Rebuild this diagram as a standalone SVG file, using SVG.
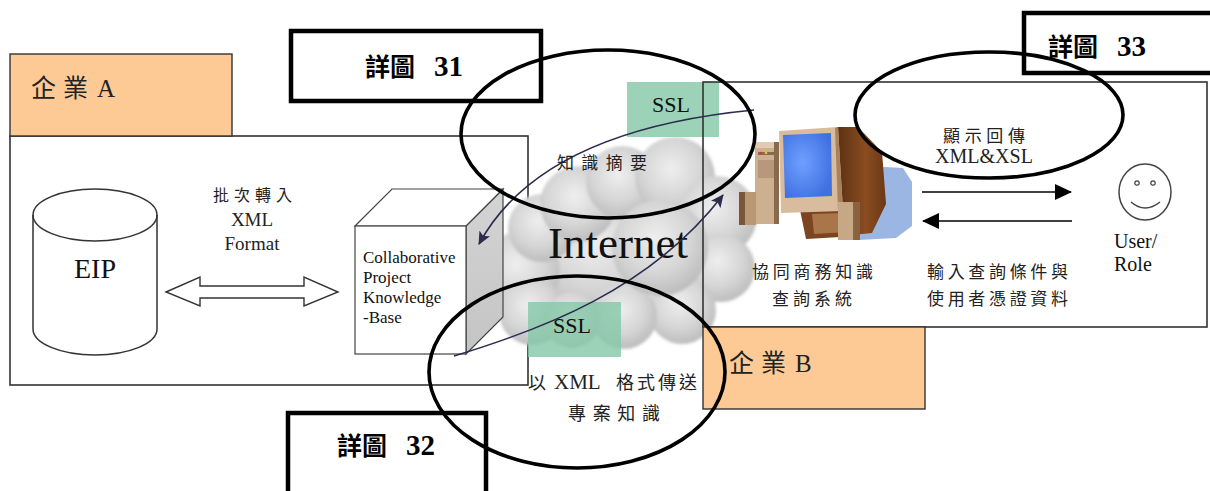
<svg xmlns="http://www.w3.org/2000/svg" width="1210" height="491" viewBox="0 0 1210 491">
  <defs>
    <style>
      .frame { fill: none; stroke: #333; stroke-width: 1.6; }
      .tag { fill: #fdca96; stroke: #333; stroke-width: 1.4; }
      .detail { fill: #fff; stroke: #000; stroke-width: 4.5; }
      .ring { fill: none; stroke: #000; stroke-width: 3.6; }
      .ssl { fill: #86c9a8; opacity: 0.82; }
      .line { fill: none; stroke: #333; stroke-width: 1.5; }
      .link { fill: none; stroke: #2c2c4e; stroke-width: 1.6; }
      .puff { fill: url(#puffGrad); }
    </style>
    <radialGradient id="puffGrad" cx="0.45" cy="0.4" r="0.6">
      <stop offset="0" stop-color="#eeeeee"/>
      <stop offset="0.6" stop-color="#d6d6d6"/>
      <stop offset="1" stop-color="#bdbdbd"/>
    </radialGradient>
    <radialGradient id="screenGrad" cx="0.4" cy="0.45" r="0.65">
      <stop offset="0" stop-color="#6fa0ff"/>
      <stop offset="1" stop-color="#3f6fe0"/>
    </radialGradient>
    <linearGradient id="sideGrad" x1="0" y1="0" x2="0" y2="1">
      <stop offset="0" stop-color="#d4d4d4"/>
      <stop offset="1" stop-color="#c4c4c4"/>
    </linearGradient>
    <linearGradient id="bodyGrad" x1="0" y1="0" x2="1" y2="0">
      <stop offset="0" stop-color="#5a3012"/>
      <stop offset="0.6" stop-color="#8a4c20"/>
      <stop offset="1" stop-color="#6a3816"/>
    </linearGradient>
    <filter id="soft" x="-10%" y="-10%" width="120%" height="120%">
      <feGaussianBlur stdDeviation="1.6"/>
    </filter>
    <marker id="navyHead" markerWidth="14" markerHeight="12" refX="12" refY="6" orient="auto" markerUnits="userSpaceOnUse">
      <path d="M0,0 L13,6 L0,12 L3,6 Z" fill="#2c2c4e"/>
    </marker>
    <marker id="blackHead" markerWidth="18" markerHeight="16" refX="16" refY="8" orient="auto" markerUnits="userSpaceOnUse">
      <path d="M0,0 L17,8 L0,16 Z" fill="#000"/>
    </marker>
  </defs>

  <rect width="1210" height="491" fill="#fff"/>

  <!-- Enterprise A -->
  <g id="enterprise-a">
    <rect class="frame" x="10" y="136" width="518" height="249" fill="#fff"/>
    <rect class="tag" x="10" y="54" width="222" height="82"/>
    <text font-family="'Liberation Serif', Tinos, 'Times New Roman', 'DejaVu Serif', 'Noto Sans CJK TC', serif" fill="#222" font-size="25" x="31 63 91 97" y="97">企業 A</text>
  </g>

  <!-- EIP store -->
  <g id="eip">
    <path class="line" fill="#fff" d="M33,215 L33,329 A62,26 0 0 0 157,329 L157,215"/>
    <ellipse class="line" fill="#fff" cx="95" cy="215" rx="62" ry="26"/>
    <text font-family="'Liberation Serif', Tinos, 'Times New Roman', 'DejaVu Serif', serif" fill="#111" font-size="28" x="95" y="278" text-anchor="middle">EIP</text>
  </g>

  <g id="batch-label" font-family="'Liberation Serif', Tinos, 'Times New Roman', 'DejaVu Serif', 'Noto Sans CJK TC', serif" fill="#222">
    <text font-size="16" x="213" y="201" textLength="79" lengthAdjust="spacing">批次轉入</text>
    <text font-size="19" x="252" y="226" text-anchor="middle">XML</text>
    <text font-size="19" x="252" y="250" text-anchor="middle">Format</text>
  </g>

  <!-- Internet cloud -->
  <g id="internet" filter="url(#soft)">
    <circle class="puff" cx="600" cy="255" r="62"/>
    <circle class="puff" cx="520" cy="272" r="40"/>
    <circle class="puff" cx="532" cy="312" r="33"/>
    <circle class="puff" cx="542" cy="228" r="34"/>
    <circle class="puff" cx="578" cy="204" r="38"/>
    <circle class="puff" cx="622" cy="182" r="36"/>
    <circle class="puff" cx="675" cy="177" r="40"/>
    <circle class="puff" cx="717" cy="216" r="40"/>
    <circle class="puff" cx="721" cy="268" r="34"/>
    <circle class="puff" cx="682" cy="310" r="34"/>
    <circle class="puff" cx="624" cy="316" r="33"/>
    <circle class="puff" cx="572" cy="320" r="28"/>
    <circle class="puff" cx="660" cy="248" r="48"/>
  </g>
  <text font-family="'Liberation Serif', Tinos, 'Times New Roman', 'DejaVu Serif', serif" fill="#111" font-size="45" x="548" y="258">Internet</text>

  <!-- Knowledge base cube -->
  <g id="knowledge-base">
    <polygon points="466,226 503,189 503,317 466,354" fill="url(#sideGrad)" stroke="#444" stroke-width="1.2"/>
    <polygon points="355,226 392,189 503,189 466,226" fill="#fff" stroke="#444" stroke-width="1.2"/>
    <rect x="355" y="226" width="111" height="128" fill="#fff" stroke="#444" stroke-width="1.2"/>
    <g font-family="'Liberation Serif', Tinos, 'Times New Roman', 'DejaVu Serif', serif" fill="#111" font-size="17">
      <text x="363" y="263">Collaborative</text>
      <text x="363" y="283">Project</text>
      <text x="363" y="303">Knowledge</text>
      <text x="363" y="323">-Base</text>
    </g>
  </g>

  <!-- SSL channels -->
  <g id="ssl-top">
    <rect class="ssl" x="627" y="82" width="92" height="55"/>
    <text font-family="'Liberation Serif', Tinos, 'Times New Roman', 'DejaVu Serif', serif" fill="#111" font-size="22" x="652" y="112">SSL</text>
  </g>
  <g id="ssl-bottom">
    <rect class="ssl" x="528" y="302" width="93" height="55"/>
    <text font-family="'Liberation Serif', Tinos, 'Times New Roman', 'DejaVu Serif', serif" fill="#111" font-size="22" x="553" y="333">SSL</text>
  </g>

  <!-- Enterprise B -->
  <g id="enterprise-b">
    <rect class="frame" x="703" y="82" width="504" height="245"/>
    <rect class="tag" x="703" y="327" width="222" height="82"/>
    <text font-family="'Liberation Serif', Tinos, 'Times New Roman', 'DejaVu Serif', 'Noto Sans CJK TC', serif" fill="#222" font-size="25" x="729 761 789 795" y="372">企業 B</text>
  </g>

  <!-- Query system workstation -->
  <g id="query-system">
    <polygon points="850,165 903,168 912,182 912,226 896,238 858,240" fill="#9cb6e4"/>
    <polygon points="836,127 858,127 882,152 886,204 872,233 842,236" fill="url(#bodyGrad)"/>
    <polygon points="800,210 852,208 858,236 806,239" fill="#7b4520"/>
    <polygon points="812,214 846,213 848,232 814,234" fill="#a9764a"/>
    <rect x="755" y="142" width="24" height="82" fill="#cdb090"/>
    <rect x="755" y="142" width="24" height="6" fill="#e2cbb0"/>
    <rect x="758" y="152" width="18" height="3" fill="#8a6a4c"/>
    <circle cx="761" cy="153" r="1.3" fill="#d33"/>
    <circle cx="766" cy="153" r="1.3" fill="#e5c030"/>
    <rect x="758" y="160" width="18" height="18" fill="#b8987a"/>
    <rect x="774" y="142" width="5" height="82" fill="#8a6a4c"/>
    <polygon points="779,131 838,127 843,211 781,213" fill="#d8bc9d"/>
    <polygon points="835,128 838,127 843,211 838,211" fill="#a98360"/>
    <polygon points="783,135 831,133 832,196 785,198" fill="url(#screenGrad)"/>
    <rect x="739" y="192" width="17" height="33" fill="#b99876"/>
    <rect x="739" y="192" width="6" height="33" fill="#7a5638"/>
    <rect x="838" y="202" width="22" height="38" fill="#c7a886"/>
    <rect x="853" y="202" width="7" height="38" fill="#8a6240"/>
  </g>

  <g id="query-labels" font-family="'Liberation Serif', Tinos, 'Times New Roman', 'DejaVu Serif', 'Noto Sans CJK TC', serif" fill="#222">
    <text font-size="17" x="752" y="278" textLength="121" lengthAdjust="spacing">協同商務知識</text>
    <text font-size="17" x="772" y="305" textLength="80" lengthAdjust="spacing">查詢系統</text>
    <text font-size="17" x="943" y="142" textLength="82" lengthAdjust="spacing">顯示回傳</text>
    <text font-size="20" x="984" y="163" text-anchor="middle">XML&amp;XSL</text>
    <text font-size="17" x="927" y="278" textLength="141" lengthAdjust="spacing">輸入查詢條件與</text>
    <text font-size="17" x="927" y="305" textLength="141" lengthAdjust="spacing">使用者憑證資料</text>
  </g>

  <!-- User / role -->
  <g id="user">
    <ellipse cx="1145" cy="192" rx="26" ry="28" fill="none" stroke="#444" stroke-width="1.5"/>
    <circle cx="1137" cy="183" r="2.2" fill="none" stroke="#444" stroke-width="1.2"/>
    <circle cx="1153" cy="183" r="2.2" fill="none" stroke="#444" stroke-width="1.2"/>
    <path d="M1131,202 Q1145,214 1160,202" fill="none" stroke="#444" stroke-width="1.5"/>
    <g font-family="'Liberation Serif', Tinos, 'Times New Roman', 'DejaVu Serif', serif" fill="#111" font-size="20">
      <text x="1114" y="248">User/</text>
      <text x="1114" y="271">Role</text>
    </g>
  </g>

  <!-- Connectors -->
  <g id="connectors">
    <polygon points="166,292 200,277 200,286 304,286 304,277 338,292 304,306 304,298 200,298 200,306" fill="#fff" stroke="#333" stroke-width="1.4"/>
    <path class="link" d="M754,110 C650,120 530,150 479,244" marker-end="url(#navyHead)"/>
    <path class="link" d="M454,356 C540,330 650,290 723,195" marker-end="url(#navyHead)"/>
    <line x1="922" y1="192" x2="1071" y2="192" stroke="#000" stroke-width="1.6" marker-end="url(#blackHead)"/>
    <line x1="1072" y1="221" x2="923" y2="221" stroke="#000" stroke-width="1.6" marker-end="url(#blackHead)"/>
  </g>

  <g id="link-labels" font-family="'Liberation Serif', Tinos, 'Times New Roman', 'DejaVu Serif', 'Noto Sans CJK TC', serif" fill="#222">
    <text font-size="17" x="557" y="169" textLength="90" lengthAdjust="spacing">知識摘要</text>
    <text font-size="18" y="389"><tspan x="528">以</tspan><tspan x="554" font-size="21">XML</tspan><tspan x="616" letter-spacing="3">格式傳送</tspan></text>
    <text font-size="18" x="568" y="420" textLength="92" lengthAdjust="spacing">專案知識</text>
  </g>

  <!-- Detail callouts -->
  <g id="detail-31">
    <rect class="detail" x="291" y="31" width="250" height="70"/>
    <text font-family="'Liberation Serif', Tinos, 'Times New Roman', 'DejaVu Serif', 'Noto Sans CJK TC', serif" font-weight="bold" fill="#000" y="76"><tspan font-size="25" x="365">詳圖</tspan><tspan font-size="29" x="434">31</tspan></text>
  </g>
  <g id="detail-32">
    <rect class="detail" x="288" y="413" width="198" height="90"/>
    <text font-family="'Liberation Serif', Tinos, 'Times New Roman', 'DejaVu Serif', 'Noto Sans CJK TC', serif" font-weight="bold" fill="#000" y="455"><tspan font-size="25" x="337">詳圖</tspan><tspan font-size="29" x="406">32</tspan></text>
  </g>
  <g id="detail-33">
    <rect class="detail" x="1024" y="13" width="200" height="60"/>
    <text font-family="'Liberation Serif', Tinos, 'Times New Roman', 'DejaVu Serif', 'Noto Sans CJK TC', serif" font-weight="bold" fill="#000" y="56"><tspan font-size="25" x="1048">詳圖</tspan><tspan font-size="29" x="1117">33</tspan></text>
  </g>

  <g id="focus-rings">
    <ellipse class="ring" cx="608" cy="134" rx="147" ry="84"/>
    <ellipse class="ring" cx="577" cy="372" rx="148" ry="96"/>
    <ellipse class="ring" cx="989" cy="115" rx="134" ry="63"/>
  </g>
</svg>
